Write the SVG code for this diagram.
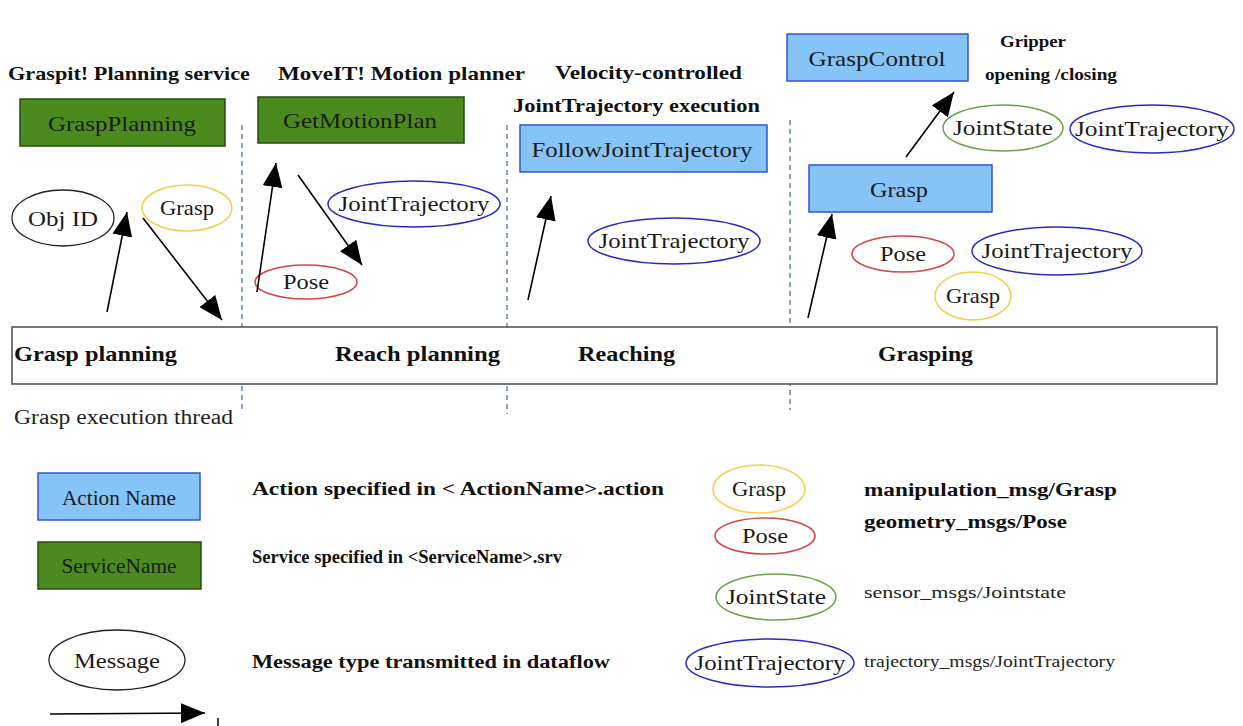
<svg xmlns="http://www.w3.org/2000/svg" width="1243" height="726" viewBox="0 0 1243 726">
<style>
  text{font-family:"Liberation Serif","Times New Roman","DejaVu Serif","Noto Serif",serif}
  .title{font-weight:bold;font-size:19px;fill:#111}
  .phase{font-weight:bold;font-size:22px;fill:#111}
  .leg{font-weight:bold;font-size:18px;fill:#111}
  .legr{font-size:16px;fill:#222}
  .thr{font-size:20px;fill:#222}
  .nt{font-size:22px;fill:#1a1a1a;text-anchor:middle}
  .svc{fill:#4b8b1e;stroke:#2c4a16;stroke-width:1.5}
  .act{fill:#86c4f8;stroke:#3553d6;stroke-width:1.5}
  .msg{fill:#fff;stroke:#222;stroke-width:1.3}
  .grasp{fill:#fff;stroke:#efd050;stroke-width:1.5}
  .pose{fill:#fff;stroke:#d04848;stroke-width:1.5}
  .jt{fill:#fff;stroke:#2a2ac0;stroke-width:1.5}
  .js{fill:#fff;stroke:#66a44a;stroke-width:1.5}
  .sep{stroke:#6a85a8;stroke-width:1.5;stroke-dasharray:5,4;fill:none}
  .conn{stroke:#000;stroke-width:1.6;fill:none;marker-end:url(#ah)}
</style>
<defs>
  <marker id="ah" markerUnits="userSpaceOnUse" markerWidth="26" markerHeight="20" refX="24" refY="10" orient="auto">
    <path d="M0,0 L24,10 L0,20 z" fill="#000"/>
  </marker>
</defs>
<rect width="1243" height="726" fill="#fff"/>

<g id="separators">
  <line class="sep" x1="242" y1="125" x2="242" y2="412"/>
  <line class="sep" x1="507" y1="125" x2="507" y2="414"/>
  <line class="sep" x1="790" y1="120" x2="790" y2="410"/>
</g>

<g id="titles">
  <text class="title" x="8" y="80" textLength="242" lengthAdjust="spacingAndGlyphs">Graspit! Planning service</text>
  <text class="title" x="278" y="80" textLength="247" lengthAdjust="spacingAndGlyphs">MoveIT! Motion planner</text>
  <text class="title" x="555" y="79" textLength="187" lengthAdjust="spacingAndGlyphs">Velocity-controlled</text>
  <text class="title" x="513" y="112" textLength="247" lengthAdjust="spacingAndGlyphs">JointTrajectory execution</text>
  <text class="title" x="1000" y="47" style="font-size:16px" textLength="66" lengthAdjust="spacingAndGlyphs">Gripper</text>
  <text class="title" x="985" y="80" style="font-size:16px" textLength="132" lengthAdjust="spacingAndGlyphs">opening /closing</text>
</g>

<g id="thread">
  <rect x="12" y="327" width="1205" height="57" fill="#fff" stroke="#555" stroke-width="1.6"/>
  <text class="phase" x="14" y="361" textLength="163" lengthAdjust="spacingAndGlyphs">Grasp planning</text>
  <text class="phase" x="335" y="361" textLength="165" lengthAdjust="spacingAndGlyphs">Reach planning</text>
  <text class="phase" x="578" y="361" textLength="97" lengthAdjust="spacingAndGlyphs">Reaching</text>
  <text class="phase" x="878" y="361" textLength="95" lengthAdjust="spacingAndGlyphs">Grasping</text>
  <text class="thr" x="14" y="424" textLength="219" lengthAdjust="spacingAndGlyphs">Grasp execution thread</text>
</g>

<g id="n-graspplanning">
  <rect class="svc" x="20" y="99" width="205" height="47"/>
  <text class="nt" x="122" y="131" textLength="148" lengthAdjust="spacingAndGlyphs">GraspPlanning</text>
</g>
<g id="n-getmotionplan">
  <rect class="svc" x="258" y="97" width="206" height="46"/>
  <text class="nt" x="360" y="128" textLength="154" lengthAdjust="spacingAndGlyphs">GetMotionPlan</text>
</g>
<g id="n-followjointtrajectory">
  <rect class="act" x="520" y="125" width="247" height="47"/>
  <text class="nt" x="642" y="157" textLength="221" lengthAdjust="spacingAndGlyphs">FollowJointTrajectory</text>
</g>
<g id="n-graspcontrol">
  <rect class="act" x="787" y="34" width="181" height="47"/>
  <text class="nt" x="877" y="66" textLength="137" lengthAdjust="spacingAndGlyphs">GraspControl</text>
</g>
<g id="n-grasp-action">
  <rect class="act" x="809" y="165" width="183" height="47"/>
  <text class="nt" x="899" y="197" textLength="58" lengthAdjust="spacingAndGlyphs">Grasp</text>
</g>

<g id="m-objid">
  <ellipse class="msg" cx="63" cy="218" rx="51" ry="28"/>
  <text class="nt" x="63" y="226" textLength="70" lengthAdjust="spacingAndGlyphs">Obj ID</text>
</g>
<g id="m-grasp1">
  <ellipse class="grasp" cx="187" cy="208" rx="45" ry="23"/>
  <text class="nt" x="187" y="215" textLength="54" lengthAdjust="spacingAndGlyphs">Grasp</text>
</g>
<g id="m-jt1">
  <ellipse class="jt" cx="414" cy="204" rx="86" ry="23"/>
  <text class="nt" x="414" y="211" textLength="151" lengthAdjust="spacingAndGlyphs">JointTrajectory</text>
</g>
<g id="m-pose1">
  <ellipse class="pose" cx="306" cy="282" rx="51" ry="17"/>
  <text class="nt" x="306" y="289" textLength="46" lengthAdjust="spacingAndGlyphs">Pose</text>
</g>
<g id="m-jt2">
  <ellipse class="jt" cx="674" cy="241" rx="86" ry="23"/>
  <text class="nt" x="674" y="248" textLength="151" lengthAdjust="spacingAndGlyphs">JointTrajectory</text>
</g>
<g id="m-jointstate1">
  <ellipse class="js" cx="1003" cy="128" rx="60" ry="23"/>
  <text class="nt" x="1003" y="135" textLength="100" lengthAdjust="spacingAndGlyphs">JointState</text>
</g>
<g id="m-jt3">
  <ellipse class="jt" cx="1152" cy="129" rx="82" ry="24"/>
  <text class="nt" x="1152" y="136" textLength="154" lengthAdjust="spacingAndGlyphs">JointTrajectory</text>
</g>
<g id="m-pose2">
  <ellipse class="pose" cx="903" cy="254" rx="51" ry="18"/>
  <text class="nt" x="903" y="261" textLength="46" lengthAdjust="spacingAndGlyphs">Pose</text>
</g>
<g id="m-jt4">
  <ellipse class="jt" cx="1057" cy="251" rx="85" ry="24"/>
  <text class="nt" x="1057" y="258" textLength="151" lengthAdjust="spacingAndGlyphs">JointTrajectory</text>
</g>
<g id="m-grasp2">
  <ellipse class="grasp" cx="973" cy="296" rx="38" ry="24"/>
  <text class="nt" x="973" y="303" textLength="54" lengthAdjust="spacingAndGlyphs">Grasp</text>
</g>

<g id="connectors">
  <line class="conn" x1="107" y1="312" x2="127" y2="212"/>
  <line class="conn" x1="143" y1="218" x2="222" y2="320"/>
  <line class="conn" x1="257" y1="292" x2="276" y2="163"/>
  <line class="conn" x1="298" y1="175" x2="362" y2="265"/>
  <line class="conn" x1="528" y1="300" x2="551" y2="196"/>
  <line class="conn" x1="808" y1="318" x2="832" y2="214"/>
  <line class="conn" x1="906" y1="157" x2="954" y2="92"/>
</g>

<g id="legend-action">
  <rect class="act" x="38" y="473" width="162" height="47"/>
  <text class="nt" x="119" y="505" textLength="114" lengthAdjust="spacingAndGlyphs">Action Name</text>
  <text class="leg" x="252" y="495" textLength="412" lengthAdjust="spacingAndGlyphs">Action specified in &lt; ActionName&gt;.action</text>
</g>
<g id="legend-service">
  <rect class="svc" x="38" y="542" width="163" height="47"/>
  <text class="nt" x="119" y="573" textLength="115" lengthAdjust="spacingAndGlyphs">ServiceName</text>
  <text class="leg" x="252" y="563" textLength="310" lengthAdjust="spacingAndGlyphs">Service specified in &lt;ServiceName&gt;.srv</text>
</g>
<g id="legend-message">
  <ellipse class="msg" cx="117" cy="660" rx="68" ry="30"/>
  <text class="nt" x="117" y="668" textLength="86" lengthAdjust="spacingAndGlyphs">Message</text>
  <text class="leg" x="252" y="668" textLength="358" lengthAdjust="spacingAndGlyphs">Message type transmitted in dataflow</text>
</g>
<g id="legend-arrow">
  <line x1="50" y1="714" x2="205" y2="713" stroke="#000" stroke-width="1.6" marker-end="url(#ah)"/>
  <line x1="218" y1="718" x2="218" y2="726" stroke="#000" stroke-width="1.5"/>
</g>
<g id="legend-grasp">
  <ellipse class="grasp" cx="759" cy="489" rx="46" ry="24"/>
  <text class="nt" x="759" y="496" textLength="54" lengthAdjust="spacingAndGlyphs">Grasp</text>
  <text class="leg" x="864" y="496" textLength="253" lengthAdjust="spacingAndGlyphs">manipulation_msg/Grasp</text>
</g>
<g id="legend-pose">
  <ellipse class="pose" cx="765" cy="536" rx="50" ry="18"/>
  <text class="nt" x="765" y="543" textLength="46" lengthAdjust="spacingAndGlyphs">Pose</text>
  <text class="leg" x="864" y="528" textLength="203" lengthAdjust="spacingAndGlyphs">geometry_msgs/Pose</text>
</g>
<g id="legend-jointstate">
  <ellipse class="js" cx="776" cy="597" rx="60" ry="23"/>
  <text class="nt" x="776" y="604" textLength="100" lengthAdjust="spacingAndGlyphs">JointState</text>
  <text class="legr" x="864" y="598" textLength="202" lengthAdjust="spacingAndGlyphs">sensor_msgs/Jointstate</text>
</g>
<g id="legend-jt">
  <ellipse class="jt" cx="770" cy="663" rx="84" ry="24"/>
  <text class="nt" x="770" y="670" textLength="151" lengthAdjust="spacingAndGlyphs">JointTrajectory</text>
  <text class="legr" x="864" y="667" textLength="251" lengthAdjust="spacingAndGlyphs">trajectory_msgs/JointTrajectory</text>
</g>
</svg>
